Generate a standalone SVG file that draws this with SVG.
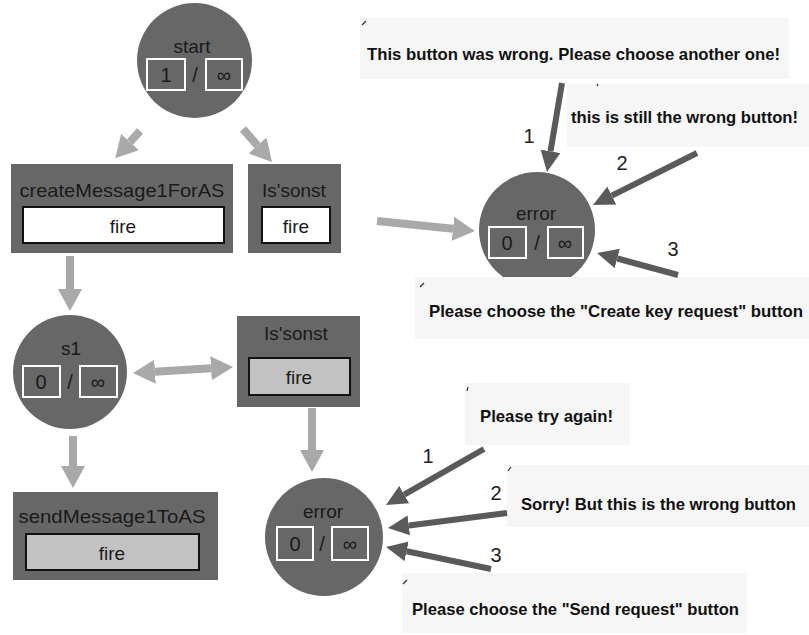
<svg xmlns="http://www.w3.org/2000/svg" width="809" height="635" viewBox="0 0 809 635">
<style>
.node{fill:#676767}
.ctr{fill:#676767;stroke:#ffffff;stroke-width:2}
.btnw{fill:#ffffff;stroke:#111;stroke-width:2}
.btng{fill:#c2c2c2;stroke:#111;stroke-width:2}
.t{font-family:"Liberation Sans",Arial,sans-serif;font-size:19px;fill:#1a1a1a;text-anchor:middle}
.k{font-family:"Liberation Sans",Arial,sans-serif;font-size:20px;fill:#1a1a1a;text-anchor:middle}
.c{font-family:"Liberation Sans",Arial,sans-serif;font-size:17px;font-weight:bold;fill:#111}
.num{font-family:"Liberation Sans",Arial,sans-serif;font-size:20px;fill:#222;text-anchor:middle}
.callout{fill:#f6f6f6}
.tick{stroke:#333;stroke-width:1.2}
.la{stroke:#a9a9a9;stroke-width:8;fill:none}
.da{stroke:#5a5a5a;stroke-width:6;fill:none}
</style>
<defs>
<marker id="lh" markerUnits="userSpaceOnUse" markerWidth="22" markerHeight="24" refX="0" refY="12" orient="auto-start-reverse" viewBox="0 0 22 24">
<path d="M0,0 L22,12 L0,24 z" fill="#a9a9a9"/>
</marker>
<marker id="dh" markerUnits="userSpaceOnUse" markerWidth="21" markerHeight="20" refX="0" refY="10" orient="auto" viewBox="0 0 21 20">
<path d="M0,0 L21,10 L0,20 z" fill="#5a5a5a"/>
</marker>
</defs>
<rect width="809" height="635" fill="#ffffff"/>

<g id="start">
<circle class="node" cx="194.5" cy="60.5" r="57.5"/>
<text class="t" x="192" y="53">start</text>
<rect class="ctr" x="147" y="59" width="38" height="31"/>
<rect class="ctr" x="206" y="59" width="36" height="31"/>
<text class="k" x="166" y="82">1</text>
<text class="k" x="195" y="82">/</text>
<text class="k" x="224" y="82">∞</text>
</g>

<g id="createMessage1ForAS">
<rect class="node" x="11" y="164" width="222" height="89"/>
<text class="t" x="122" y="197" textLength="205" lengthAdjust="spacingAndGlyphs">createMessage1ForAS</text>
<rect class="btnw" x="23" y="207" width="201" height="36"/>
<text class="t" x="123" y="233">fire</text>
</g>

<g id="issonst1">
<rect class="node" x="248" y="164" width="93" height="89"/>
<text class="t" x="294" y="197">Is'sonst</text>
<rect class="btnw" x="262" y="207" width="68" height="36"/>
<text class="t" x="296" y="233">fire</text>
</g>

<g id="error1">
<circle class="node" cx="537" cy="230" r="58"/>
<text class="t" x="536" y="220">error</text>
<rect class="ctr" x="489" y="227" width="37" height="31"/>
<rect class="ctr" x="548" y="227" width="35" height="31"/>
<text class="k" x="507" y="250">0</text>
<text class="k" x="537" y="250">/</text>
<text class="k" x="565" y="250">∞</text>
</g>

<g id="s1">
<circle class="node" cx="70" cy="372" r="57"/>
<text class="t" x="71" y="355">s1</text>
<rect class="ctr" x="23" y="366" width="37" height="31"/>
<rect class="ctr" x="80" y="366" width="37" height="31"/>
<text class="k" x="41" y="389">0</text>
<text class="k" x="70" y="389">/</text>
<text class="k" x="98" y="389">∞</text>
</g>

<g id="issonst2">
<rect class="node" x="237" y="316" width="123" height="91"/>
<text class="t" x="296" y="340">Is'sonst</text>
<rect class="btng" x="249" y="358" width="101" height="37"/>
<text class="t" x="299" y="384">fire</text>
</g>

<g id="sendMessage1ToAS">
<rect class="node" x="13" y="492" width="205" height="88"/>
<text class="t" x="112" y="523" textLength="187" lengthAdjust="spacingAndGlyphs">sendMessage1ToAS</text>
<rect class="btng" x="26" y="534" width="173" height="36"/>
<text class="t" x="112" y="560">fire</text>
</g>

<g id="error2">
<circle class="node" cx="324" cy="537" r="59"/>
<text class="t" x="323" y="518">error</text>
<rect class="ctr" x="277" y="527" width="36" height="33"/>
<rect class="ctr" x="332" y="527" width="36" height="33"/>
<text class="k" x="295" y="551">0</text>
<text class="k" x="322" y="551">/</text>
<text class="k" x="350" y="551">∞</text>
</g>

<g id="callouts">
<g id="msg1">
<rect class="callout" x="360" y="18" width="429" height="61"/>
<line class="tick" x1="362" y1="25" x2="366" y2="21"/>
<text class="c" x="367" y="60" textLength="413" lengthAdjust="spacingAndGlyphs">This button was wrong. Please choose another one!</text>
</g>
<g id="msg2">
<rect class="callout" x="567" y="84" width="242" height="63"/>
<line class="tick" x1="597" y1="86" x2="598" y2="84"/>
<text class="c" x="571" y="123" textLength="227" lengthAdjust="spacingAndGlyphs">this is still the wrong button!</text>
</g>
<g id="msg3">
<rect class="callout" x="415" y="277" width="394" height="62"/>
<line class="tick" x1="420" y1="287" x2="424" y2="283"/>
<text class="c" x="429" y="317" textLength="374" lengthAdjust="spacingAndGlyphs">Please choose the "Create key request" button</text>
</g>
<g id="msg4">
<rect class="callout" x="465" y="383" width="165" height="62"/>
<line class="tick" x1="467" y1="391" x2="468" y2="387"/>
<text class="c" x="480" y="422" textLength="133" lengthAdjust="spacingAndGlyphs">Please try again!</text>
</g>
<g id="msg5">
<rect class="callout" x="507" y="465" width="302" height="62"/>
<line class="tick" x1="508" y1="471" x2="511" y2="467"/>
<text class="c" x="521" y="510" textLength="275" lengthAdjust="spacingAndGlyphs">Sorry! But this is the wrong button</text>
</g>
<g id="msg6">
<rect class="callout" x="402" y="573" width="345" height="60"/>
<line class="tick" x1="403" y1="584" x2="407" y2="580"/>
<text class="c" x="412" y="615" textLength="327" lengthAdjust="spacingAndGlyphs">Please choose the "Send request" button</text>
</g>
</g>

<g id="connectors">
<line class="la" x1="140" y1="131" x2="130" y2="142" marker-end="url(#lh)"/>
<line class="la" x1="243" y1="129" x2="257.5" y2="145.5" marker-end="url(#lh)"/>
<line class="la" x1="377" y1="221" x2="453" y2="228.8" marker-end="url(#lh)"/>
<line class="la" x1="70" y1="256" x2="70" y2="289" marker-end="url(#lh)"/>
<line class="la" x1="73" y1="436" x2="73" y2="466" marker-end="url(#lh)"/>
<line class="la" x1="312" y1="408" x2="312" y2="450" marker-end="url(#lh)"/>
<line class="la" x1="155" y1="371.7" x2="211" y2="368.3" marker-start="url(#lh)" marker-end="url(#lh)"/>

<line class="da" x1="562" y1="83" x2="550.5" y2="151.3" marker-end="url(#dh)"/>
<line class="da" x1="697" y1="153" x2="611.8" y2="195.6" marker-end="url(#dh)"/>
<line class="da" x1="678" y1="275" x2="617.3" y2="258.5" marker-end="url(#dh)"/>
<line class="da" x1="484" y1="449" x2="404.2" y2="494.6" marker-end="url(#dh)"/>
<line class="da" x1="507" y1="513" x2="408.8" y2="525.4" marker-end="url(#dh)"/>
<line class="da" x1="491" y1="569" x2="406.6" y2="551.3" marker-end="url(#dh)"/>

<text class="num" x="529" y="143">1</text>
<text class="num" x="622" y="170">2</text>
<text class="num" x="673" y="256">3</text>
<text class="num" x="428" y="463">1</text>
<text class="num" x="496" y="500">2</text>
<text class="num" x="496" y="562">3</text>
</g>
</svg>
